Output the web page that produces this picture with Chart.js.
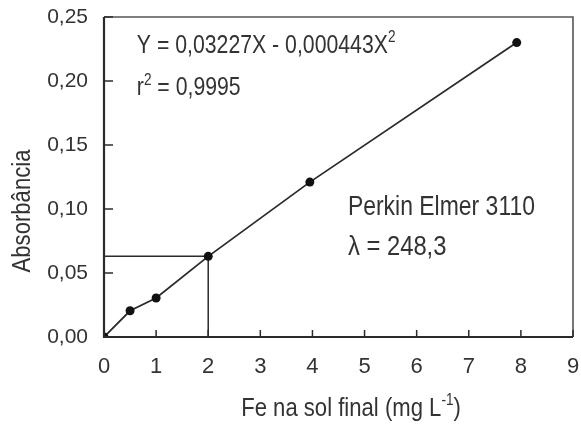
<!DOCTYPE html>
<html>
<head>
<meta charset="utf-8">
<script src="https://cdn.jsdelivr.net/npm/chart.js@4.4.1/dist/chart.umd.min.js"></script>
<style>
    html, body { margin: 0; padding: 0; background: #ffffff; }
    #wrap { width: 581px; height: 427px; }
</style>
</head>
<body>
<div id="wrap"><canvas id="calib" width="581" height="427"></canvas></div>
<script>
const FONT = '"Liberation Sans", Arial, sans-serif';
const INK = "#2b2b2b";
const TEXT = "#333333";
const SQUEEZE = 0.85; // the scanned labels use a condensed face

// calibration points
const feConc = [0, 0.5, 1, 2, 3.95, 7.92];
const absorbance = [0, 0.0205, 0.0305, 0.063, 0.121, 0.230];

// reading guide for the 2 mg/L standard
const guideX = [0, 2, 2];
const guideY = [0.063, 0.063, 0];

const xTicks = [0, 1, 2, 3, 4, 5, 6, 7, 8, 9];
const yTicks = [0, 0.05, 0.10, 0.15, 0.20, 0.25];

const toPoints = (xs, ys) => xs.map((x, i) => ({ x, y: ys[i] }));
const fmtComma = (v) => v.toFixed(2).replace(".", ",");

// parts = [[text, isSuperscript], ...], drawn condensed from (x, y) baseline
function drawRich(ctx, parts, x, y, size, align) {
    ctx.save();
    ctx.translate(x, y);
    ctx.scale(SQUEEZE, 1);
    ctx.textAlign = "left";
    ctx.textBaseline = "alphabetic";
    let total = 0;
    parts.forEach(([txt, sup]) => {
        ctx.font = `${sup ? Math.round(size * 0.62) : size}px ${FONT}`;
        total += ctx.measureText(txt).width;
    });
    let cx = align === "center" ? -total / 2 : 0;
    parts.forEach(([txt, sup]) => {
        ctx.font = `${sup ? Math.round(size * 0.62) : size}px ${FONT}`;
        ctx.fillText(txt, cx, sup ? -size * 0.42 : 0);
        cx += ctx.measureText(txt).width;
    });
    ctx.restore();
}

const framePlugin = {
    id: "frame",
    afterDraw(chart) {
        const { ctx, chartArea: a, scales } = chart;
        const xs = scales.x;
        const ys = scales.y;
        ctx.save();
        // top and right edges are a touch lighter in the scan
        ctx.strokeStyle = "#555555";
        ctx.lineWidth = 1.6;
        ctx.beginPath();
        ctx.moveTo(a.left, a.top);
        ctx.lineTo(a.right, a.top);
        ctx.lineTo(a.right, a.bottom);
        ctx.stroke();

        ctx.strokeStyle = INK;
        ctx.lineWidth = 2.2;
        ctx.beginPath();
        ctx.moveTo(a.left, a.top);
        ctx.lineTo(a.left, a.bottom);
        ctx.lineTo(a.right, a.bottom);
        ctx.stroke();

        // inward tick marks
        ctx.lineWidth = 1.5;
        yTicks.forEach((v) => {
            const py = ys.getPixelForValue(v);
            ctx.beginPath();
            ctx.moveTo(a.left, py);
            ctx.lineTo(a.left + 9, py);
            ctx.stroke();
        });
        xTicks.forEach((v) => {
            const px = xs.getPixelForValue(v);
            ctx.beginPath();
            ctx.moveTo(px, a.bottom);
            ctx.lineTo(px, a.bottom - 7);
            ctx.stroke();
        });
        ctx.restore();

        ctx.save();
        ctx.fillStyle = TEXT;

        // equation and fit
        const ex = xs.getPixelForValue(0.63);
        drawRich(ctx, [["Y = 0,03227X - 0,000443X", false], ["2", true]], ex, ys.getPixelForValue(0.222), 25);
        drawRich(ctx, [["r", false], ["2", true], [" = 0,9995", false]], ex, ys.getPixelForValue(0.189), 25);

        // instrument
        const ix = xs.getPixelForValue(4.68);
        drawRich(ctx, [["Perkin Elmer 3110", false]], ix, ys.getPixelForValue(0.095), 27);
        drawRich(ctx, [["\u03bb = 248,3", false]], ix, ys.getPixelForValue(0.064), 28);

        // axis titles
        drawRich(ctx, [["Fe na sol final (mg L", false], ["-1", true], [")", false]], 351, 416, 26, "center");

        ctx.translate(30, 211);
        ctx.rotate(-Math.PI / 2);
        drawRich(ctx, [["Absorb\u00e2ncia", false]], 0, 0, 26, "center");
        ctx.restore();
    },
};

new Chart(document.getElementById("calib"), {
    type: "scatter",
    data: {
        datasets: [
            {
                data: toPoints(feConc, absorbance),
                showLine: true,
                borderColor: INK,
                borderWidth: 1.8,
                pointRadius: 4.5,
                pointBackgroundColor: "#111111",
                pointBorderWidth: 0,
            },
            {
                data: toPoints(guideX, guideY),
                showLine: true,
                borderColor: INK,
                borderWidth: 1.5,
                pointRadius: 0,
            },
        ],
    },
    options: {
        responsive: false,
        animation: false,
        layout: { padding: { top: 17, right: 8, left: 0, bottom: 0 } },
        plugins: {
            legend: { display: false },
            tooltip: { enabled: false },
        },
        scales: {
            x: {
                type: "linear",
                min: 0,
                max: 9,
                afterFit: (scale) => {
                    scale.height = 90;
                    scale.paddingLeft = 0;
                    scale.paddingRight = 0;
                },
                afterBuildTicks: (scale) => { scale.ticks = xTicks.map((v) => ({ value: v })); },
                grid: { display: false, drawTicks: false },
                border: { display: false },
                ticks: {
                    padding: 17,
                    maxRotation: 0,
                    color: TEXT,
                    font: { family: FONT, size: 22 },
                },
            },
            y: {
                type: "linear",
                min: 0,
                max: 0.25,
                afterFit: (scale) => {
                    scale.width = 104;
                    scale.paddingTop = 0;
                    scale.paddingBottom = 0;
                },
                afterBuildTicks: (scale) => { scale.ticks = yTicks.map((v) => ({ value: v })); },
                grid: { display: false, drawTicks: false },
                border: { display: false },
                ticks: {
                    padding: 16,
                    color: TEXT,
                    font: { family: FONT, size: 21 },
                    callback: (v) => fmtComma(v),
                },
            },
        },
    },
    plugins: [framePlugin],
});
</script>
</body>
</html>
